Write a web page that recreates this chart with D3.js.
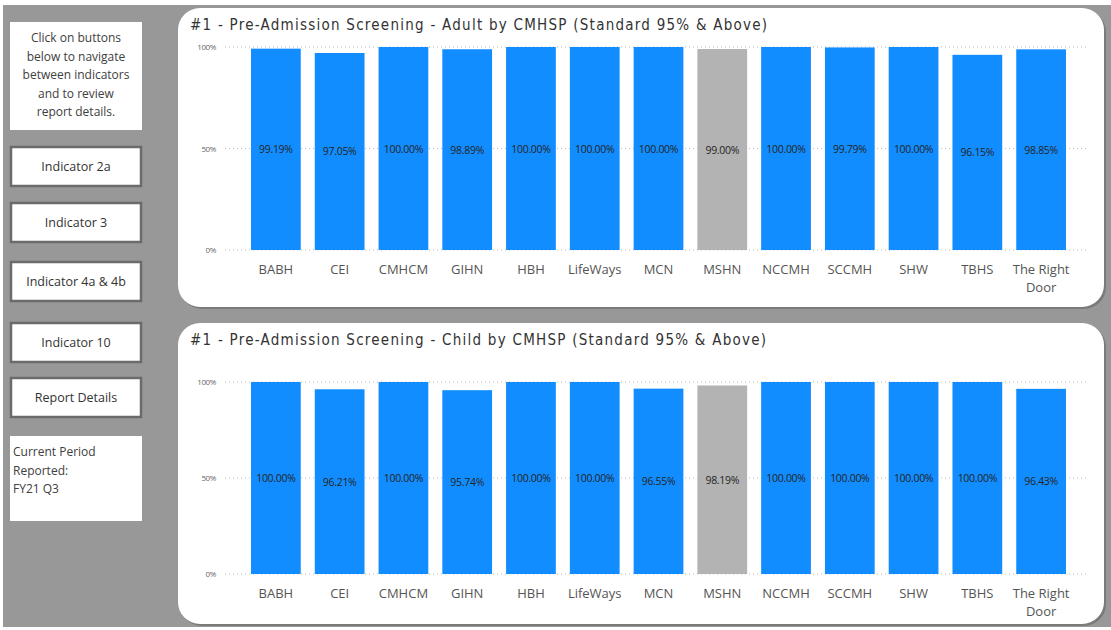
<!DOCTYPE html>
<html>
<head>
<meta charset="utf-8">
<script src="https://cdn.jsdelivr.net/npm/d3@7"></script>
<style>
  html, body { margin: 0; padding: 0; background: #fff; }
  svg { display: block; }
</style>
</head>
<body>
<div id="chart"></div>
<script>
// categories shared by both charts
let providers = ['BABH', 'CEI', 'CMHCM', 'GIHN', 'HBH', 'LifeWays', 'MCN', 'MSHN',
                 'NCCMH', 'SCCMH', 'SHW', 'TBHS', 'The Right Door'];
let adult_values = [99.19, 97.05, 100.00, 98.89, 100.00, 100.00, 100.00, 99.00,
                    100.00, 99.79, 100.00, 96.15, 98.85];
let child_values = [100.00, 96.21, 100.00, 95.74, 100.00, 100.00, 96.55, 98.19,
                    100.00, 100.00, 100.00, 100.00, 96.43];
let highlight = 'MSHN';
let y_ticks = [0, 50, 100];
let adult_title = '#1 - Pre-Admission Screening - Adult by CMHSP (Standard 95% & Above)';
let child_title = '#1 - Pre-Admission Screening - Child by CMHSP (Standard 95% & Above)';
let nav_buttons = ['Indicator 2a', 'Indicator 3', 'Indicator 4a & 4b', 'Indicator 10', 'Report Details'];
let intro_lines = ['Click on buttons', 'below to navigate', 'between indicators', 'and to review', 'report details.'];
let period_lines = ['Current Period', 'Reported:', 'FY21 Q3'];

let W = 1111, H = 630;
let svg = d3.select('#chart').append('svg')
    .attr('width', W)
    .attr('height', H);

// page background
svg.append('rect').attr('x', 3).attr('y', 5).attr('width', W - 3).attr('height', 622)
    .attr('fill', '#989898');

let ui_font = "'Open Sans', 'Noto Sans', sans-serif";

// left side: intro box
let intro = svg.append('g');
intro.append('rect').attr('x', 10).attr('y', 22).attr('width', 132).attr('height', 108)
    .attr('fill', '#fff');
intro.selectAll('text')
    .data(intro_lines)
    .enter().append('text')
    .attr('x', 76)
    .attr('y', function(d, i) { return 42 + i * 18.6; })
    .attr('text-anchor', 'middle')
    .style('font-family', ui_font)
    .style('font-size', '12px')
    .style('fill', '#404040')
    .text(function(d) { return d; });

// nav buttons
let button_tops = [147, 203, 262, 323, 378];
nav_buttons.forEach(function(label, i) {
    let g = svg.append('g');
    g.append('rect')
        .attr('x', 11).attr('y', button_tops[i])
        .attr('width', 130).attr('height', 39)
        .attr('fill', '#fff')
        .attr('stroke', '#6b6b6b')
        .attr('stroke-width', 2.5);
    g.append('text')
        .attr('x', 76).attr('y', button_tops[i] + 24)
        .attr('text-anchor', 'middle')
        .style('font-family', ui_font)
        .style('font-size', '12.5px')
        .style('fill', '#333')
        .text(label);
});

// current period box
let period = svg.append('g');
period.append('rect').attr('x', 10).attr('y', 436).attr('width', 132).attr('height', 85)
    .attr('fill', '#fff');
period.selectAll('text')
    .data(period_lines)
    .enter().append('text')
    .attr('x', 13)
    .attr('y', function(d, i) { return 456 + i * 18.5; })
    .style('font-family', ui_font)
    .style('font-size', '12px')
    .style('fill', '#404040')
    .text(function(d) { return d; });

function draw_panel(top, bottom, title, values, y0, y100, label_y) {
    let left = 178, right = 1104;

    // shadow + card
    svg.append('rect')
        .attr('x', left + 2).attr('y', top + 2)
        .attr('width', right - left).attr('height', bottom - top)
        .attr('rx', 22).attr('ry', 22)
        .attr('fill', '#7a7a7a');
    svg.append('rect')
        .attr('x', left).attr('y', top)
        .attr('width', right - left).attr('height', bottom - top)
        .attr('rx', 22).attr('ry', 22)
        .attr('fill', '#fff');

    svg.append('text')
        .attr('x', 190).attr('y', top + 22)
        .style('font-family', "'DejaVu Sans Condensed', 'DejaVu Sans', sans-serif")
        .style('font-size', '15px')
        .style('letter-spacing', '1.25px')
        .style('fill', '#333')
        .text(title);

    let x = d3.scaleBand()
        .domain(providers)
        .range([244, 1073])
        .paddingInner(0.22)
        .paddingOuter(0.11);

    let y = d3.scaleLinear()
        .domain([0, 100])
        .range([y0, y100]);

    // gridlines
    let grid = svg.append('g');
    grid.selectAll('line')
        .data(y_ticks)
        .enter().append('line')
        .attr('x1', 225).attr('x2', 1088)
        .attr('y1', function(d) { return y(d); })
        .attr('y2', function(d) { return y(d); })
        .attr('stroke', '#b8b8b8')
        .attr('stroke-width', 1)
        .attr('stroke-dasharray', '1,3');

    grid.selectAll('text')
        .data(y_ticks)
        .enter().append('text')
        .attr('x', 216)
        .attr('y', function(d) { return y(d) + 3; })
        .attr('text-anchor', 'end')
        .style('font-family', ui_font)
        .style('font-size', '8px')
        .style('letter-spacing', '-0.4px')
        .style('fill', '#666')
        .text(function(d) { return d + '%'; });

    // bars
    svg.append('g').selectAll('rect')
        .data(values)
        .enter().append('rect')
        .attr('x', function(d, i) { return x(providers[i]); })
        .attr('y', function(d) { return y(d); })
        .attr('width', x.bandwidth())
        .attr('height', function(d) { return y(0) - y(d); })
        .attr('fill', function(d, i) { return providers[i] === highlight ? '#b3b3b3' : '#118dff'; });

    // value labels, centered in bar
    svg.append('g').selectAll('text')
        .data(values)
        .enter().append('text')
        .attr('x', function(d, i) { return x(providers[i]) + x.bandwidth() / 2; })
        .attr('y', function(d) { return (y(d) + y(0)) / 2 + 4; })
        .attr('text-anchor', 'middle')
        .style('font-family', ui_font)
        .style('font-size', '10.5px')
        .style('letter-spacing', '-0.3px')
        .style('fill', '#252423')
        .text(function(d) { return d.toFixed(2) + '%'; });

    // category labels (wrapped)
    let cats = svg.append('g').selectAll('text')
        .data(providers)
        .enter().append('text')
        .attr('x', function(d) { return x(d) + x.bandwidth() / 2; })
        .attr('y', label_y)
        .attr('text-anchor', 'middle')
        .style('font-family', ui_font)
        .style('font-size', '13px')
        .style('fill', '#555');

    cats.each(function(d) {
        let words = d === 'The Right Door' ? ['The Right', 'Door'] : [d];
        let t = d3.select(this);
        words.forEach(function(w, k) {
            t.append('tspan')
                .attr('x', t.attr('x'))
                .attr('dy', k === 0 ? 0 : 18)
                .text(w);
        });
    });
}

draw_panel(8, 307, adult_title, adult_values, 250, 47, 274);
draw_panel(323, 624, child_title, child_values, 574, 382, 598);
</script>
</body>
</html>
